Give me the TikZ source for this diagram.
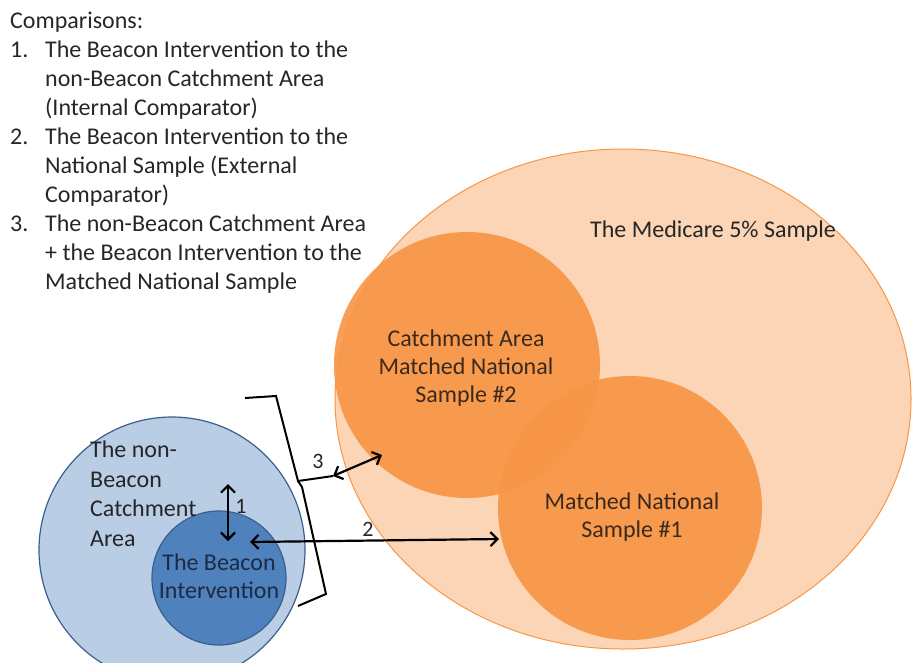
\documentclass[tikz,border=0pt]{standalone}
\usepackage{fontspec}
\setmainfont{Carlito}
\usetikzlibrary{shapes.geometric,arrows.meta}
\definecolor{peach}{HTML}{FBD5B5}
\definecolor{orangeline}{HTML}{F79646}
\definecolor{orangefill}{HTML}{F79646}
\definecolor{lightblue}{HTML}{B9CDE5}
\definecolor{midblue}{HTML}{4F81BD}
\definecolor{blueline}{HTML}{3A5F8E}
\definecolor{txtgray}{HTML}{262626}
\definecolor{txtbrown}{HTML}{3B2A1C}
\definecolor{txtnavy}{HTML}{1C2B45}
\begin{document}
\begin{tikzpicture}[x=1pt,y=-1pt,
  lbl/.style={font=\fontsize{24}{29}\selectfont, align=center, inner sep=0pt},
  orangecirc/.style={circle, fill=orangefill, fill opacity=0.92, inner sep=0pt},
  bluecirc/.style={circle, draw=blueline, line width=1.2pt, inner sep=0pt},
  dblarrow/.style={line width=2.2pt, {Straight Barb[length=7pt,width=14pt]}-{Straight Barb[length=7pt,width=14pt]}},
  bracketline/.style={line width=2pt, black, line join=miter},
  numlbl/.style={font=\fontsize{22}{24}\selectfont, text=txtgray, inner sep=0pt}]
\useasboundingbox (0,0) rectangle (912,662);
\begin{scope}
\clip (0,0) rectangle (912,662);
% Medicare sample
\node[ellipse, draw=orangeline, fill=peach, line width=1pt, minimum width=576pt, minimum height=500pt, inner sep=0pt] (med) at (623,399) {};
\node[orangecirc, minimum size=266pt] (cam2) at (467,365) {};
\node[orangecirc, minimum size=264pt] (ms1) at (630,508) {};
% Blue circles
\node[bluecirc, fill=lightblue, minimum size=266pt] (nonb) at (172,550) {};
\node[bluecirc, fill=midblue, minimum size=134pt] (beac) at (219,578) {};
\end{scope}

% labels
\node[lbl, text=txtgray] (medlbl) at (713,231) {The Medicare 5\% Sample};
\node[lbl, text=txtbrown, font=\fontsize{24}{28}\selectfont] (cam2lbl) at (466,368) {Catchment Area\\Matched National\\Sample \#2};
\node[lbl, text=txtbrown, font=\fontsize{24}{28}\selectfont] (ms1lbl) at (632,517) {Matched National\\Sample \#1};
\node[lbl, text=txtgray, align=left, anchor=north west, font=\fontsize{24}{29.5}\selectfont] (nonblbl) at (90,441) {The non-\\Beacon\\Catchment\\Area};
\node[lbl, text=txtnavy, font=\fontsize{24}{28}\selectfont] (beaclbl) at (219,576) {The Beacon\\Intervention};

% comparisons list
\node[lbl, text=txtgray, align=left, anchor=north west] (list) at (10,12) {%
Comparisons:\\
\makebox[35pt][l]{1.}The Beacon Intervention to the\\
\hspace*{35pt}non-Beacon Catchment Area\\
\hspace*{35pt}(Internal Comparator)\\
\makebox[35pt][l]{2.}The Beacon Intervention to the\\
\hspace*{35pt}National Sample (External\\
\hspace*{35pt}Comparator)\\
\makebox[35pt][l]{3.}The non-Beacon Catchment Area\\
\hspace*{35pt}+ the Beacon Intervention to the\\
\hspace*{35pt}Matched National Sample};

% bracket
\coordinate (bt1) at (245,398);
\coordinate (bt2) at (276,396);
\coordinate (bt3) at (298,481);
\coordinate (btip) at (333,476);
\coordinate (bb1) at (302,487);
\coordinate (bb2) at (326,594);
\coordinate (bb3) at (298,606);
\draw[bracketline] (bt1) -- (bt2) -- (bt3) -- (btip);
\draw[bracketline] (bt3) -- (bb1) -- (bb2) -- (bb3);

% arrows
\coordinate (a1s) at (228,484);
\coordinate (a1e) at (228,541);
\draw[dblarrow] (a1s) -- (a1e);
\node[numlbl] (n1) at (241,506) {1};

\coordinate (a2s) at (250,542);
\coordinate (a2e) at (499,539);
\draw[dblarrow] (a2s) -- (a2e);
\node[numlbl] (n2) at (368,529) {2};

\coordinate (a3e) at (382,455);
\draw[dblarrow] (btip) -- (a3e);
\node[numlbl] (n3) at (318,461) {3};
\end{tikzpicture}
\end{document}
